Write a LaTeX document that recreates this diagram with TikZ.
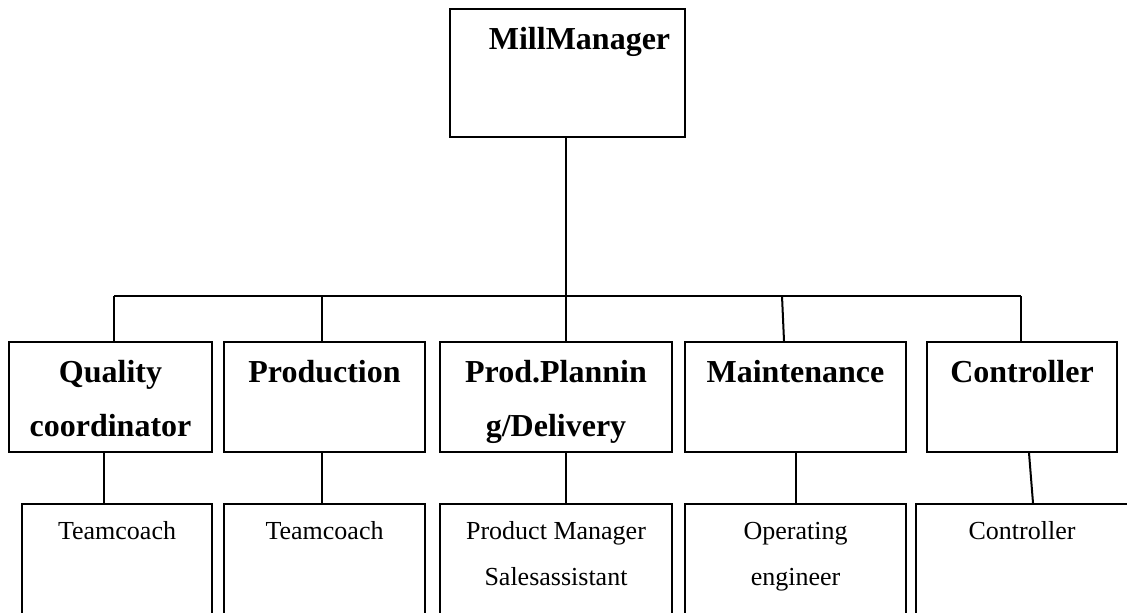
\documentclass[tikz,border=0pt]{standalone}
\usepackage{fontspec}
\setmainfont{Liberation Serif}
\begin{document}
\begin{tikzpicture}[x=0.5pt, y=-0.5pt, line width=1pt,
  unit/.style={draw, rectangle, inner sep=0pt, minimum height=55pt},
  staff/.style={draw, rectangle, inner sep=0pt, minimum height=70pt, anchor=north},
  head/.style={font=\fontsize{16}{19}\selectfont\bfseries, anchor=base, inner sep=0pt},
  duty/.style={font=\fontsize{13}{16}\selectfont, anchor=base, inner sep=0pt}]

\useasboundingbox (0,0) rectangle (1127,612);
\clip (0,0) rectangle (1127,612);

% Top: mill manager
\node[draw, rectangle, inner sep=0pt, minimum width=117.5pt, minimum height=64pt] (mm) at (567.5,73) {};
\node[head] (mmt) at ([xshift=6pt, yshift=-20.5pt]mm.north) {MillManager};

% Departments
\node[unit, minimum width=101.5pt] (qc) at (110.5,397) {};
\node[unit, minimum width=100.5pt] (pr) at (324.5,397) {};
\node[unit, minimum width=116pt] (pp) at (556,397) {};
\node[unit, minimum width=110.5pt] (mt) at (795.5,397) {};
\node[unit, minimum width=95pt] (ct) at (1022,397) {};

\node[head] (qct1) at ([yshift=-20.5pt]qc.north) {Quality};
\node[head] (qct2) at ([yshift=-47.5pt]qc.north) {coordinator};
\node[head] (prt) at ([yshift=-20.5pt]pr.north) {Production};
\node[head] (ppt1) at ([yshift=-20.5pt]pp.north) {Prod.Plannin};
\node[head] (ppt2) at ([yshift=-47.5pt]pp.north) {g/Delivery};
\node[head] (mtt) at ([yshift=-20.5pt]mt.north) {Maintenance};
\node[head] (ctt) at ([yshift=-20.5pt]ct.north) {Controller};

% Staff (cut off at the bottom)
\node[staff, minimum width=95pt] (tc1) at (117,503) {};
\node[staff, minimum width=100.5pt] (tc2) at (324.5,503) {};
\node[staff, minimum width=116pt] (pm) at (556,503) {};
\node[staff, minimum width=110.5pt] (oe) at (795.5,503) {};
\node[staff, minimum width=112pt] (co) at (1028,503) {};

\node[duty] (tc1t) at ([yshift=-18pt]tc1.north) {Teamcoach};
\node[duty] (tc2t) at ([yshift=-18pt]tc2.north) {Teamcoach};
\node[duty] (pmt1) at ([yshift=-18pt]pm.north) {Product Manager};
\node[duty] (pmt2) at ([yshift=-41pt]pm.north) {Salesassistant};
\node[duty] (oet1) at ([yshift=-18pt]oe.north) {Operating};
\node[duty] (oet2) at ([yshift=-41pt]oe.north) {engineer};
\node[duty] (cot) at ([xshift=-3pt, yshift=-18pt]co.north) {Controller};

% Lines
\coordinate (hub) at (566,296);
\coordinate (busl) at (114,296);
\coordinate (busp) at (322,296);
\coordinate (busm) at (782,296);
\coordinate (busr) at (1021,296);
\draw (mm.south -| hub) -- (hub);
\draw (busl) -- (busr);
\draw (busl) -- (busl |- qc.north);
\draw (busp) -- (busp |- pr.north);
\draw (hub) -- (hub |- pp.north);
\draw (busm) -- ([xshift=-5.75pt]mt.north);
\draw (busr) -- (busr |- ct.north);

\draw ([xshift=-3.25pt]qc.south) -- ([xshift=-3.25pt]qc.south |- tc1.north);
\draw (pr.south -| busp) -- (tc2.north -| busp);
\draw (pp.south -| hub) -- (pm.north -| hub);
\draw (mt.south) -- (oe.north);
\draw ([xshift=3.5pt]ct.south) -- ([xshift=5.5pt]ct.south |- co.north);

\end{tikzpicture}
\end{document}
